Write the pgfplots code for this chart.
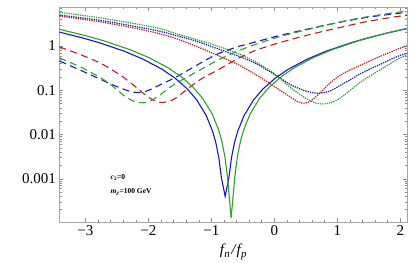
\documentclass[border=0pt]{standalone}
\usepackage{fontspec}
\setmainfont{Liberation Serif}
\usepackage{pgfplots}
\pgfplotsset{compat=1.18}
\definecolor{myred}{rgb}{0.72,0.12,0.12}
\definecolor{myblue}{rgb}{0.1,0.1,0.72}
\definecolor{mygreen}{rgb}{0.17,0.64,0.17}
\begin{document}
\begin{tikzpicture}
\begin{axis}[
  scale only axis, width=347.5pt, height=214.7pt,
  ymode=log, xmin=-3.41, xmax=2.107, ymin=1.067e-4, ymax=7.6,
  axis line style={draw=black!35},
  tick align=inside, tick pos=both,
  xtick={-3,-2,-1,0,1,2}, xticklabels={−3,−2,−1,0,1,2},
  minor x tick num=4,
  ytick={0.001,0.01,0.1,1}, yticklabels={0.001,0.01,0.1,1},
  minor ytick={2e-4,3e-4,4e-4,5e-4,6e-4,7e-4,8e-4,9e-4,2e-3,3e-3,4e-3,5e-3,6e-3,7e-3,8e-3,9e-3,0.02,0.03,0.04,0.05,0.06,0.07,0.08,0.09,0.2,0.3,0.4,0.5,0.6,0.7,0.8,0.9,2,3,4,5,6,7},
  major tick length=4pt, minor tick length=2.2pt,
  tick style={black!45, line width=0.4pt},
  tick label style={font=\fontsize{15}{15}\selectfont},
  xlabel={{\fontsize{15}{15}\selectfont\itshape f\kern0.3pt\raisebox{-3pt}{\fontsize{11}{11}\selectfont n}\kern1.5pt/\kern1pt f\kern0.3pt\raisebox{-3pt}{\fontsize{11}{11}\selectfont p}}},
  xlabel style={yshift=-2pt},
  every axis plot/.append style={line width=1.1pt},
]
\coordinate (sw) at (rel axis cs:0,0);
\coordinate (ne) at (rel axis cs:1,1);
% dotted
\addplot[myred, line width=1.2pt, dash pattern=on 1.3pt off 1pt, smooth] coordinates {
(-3.41,4.76) (-2.753,3.48) (-2.231,2.55) (-1.835,1.91) (-1.566,1.48) (-1.250,1.00) (-0.934,0.643) (-0.617,0.407) (-0.380,0.266) (-0.222,0.195) (-0.063,0.139) (0.095,0.0989) (0.253,0.0706) (0.380,0.0544) (0.475,0.0509) (0.570,0.0559) (0.665,0.0724) (0.759,0.0965) (0.886,0.146) (1.044,0.216) (1.203,0.287) (1.361,0.363) (1.677,0.579) (1.994,0.887) (2.107,1.0)};
\addplot[myblue, line width=1.2pt, dash pattern=on 1.3pt off 1pt, smooth] coordinates {
(-3.41,5.01) (-2.753,3.77) (-2.231,2.80) (-1.835,2.18) (-1.566,1.73) (-1.250,1.30) (-0.934,0.901) (-0.617,0.626) (-0.301,0.407) (0.016,0.221) (0.253,0.135) (0.491,0.0965) (0.696,0.0855) (0.886,0.0965) (1.044,0.128) (1.203,0.171) (1.361,0.233) (1.677,0.382) (1.994,0.610) (2.107,0.677)};
\addplot[mygreen, line width=1.2pt, dash pattern=on 1.3pt off 1pt, smooth] coordinates {
(-3.41,5.77) (-2.753,4.29) (-2.231,3.22) (-1.835,2.51) (-1.566,1.91) (-1.250,1.42) (-0.934,1.03) (-0.617,0.713) (-0.301,0.442) (0.016,0.227) (0.253,0.116) (0.491,0.0670) (0.665,0.0509) (0.807,0.0491) (0.934,0.0544) (1.044,0.0659) (1.203,0.0989) (1.361,0.150) (1.519,0.210) (1.677,0.287) (1.994,0.536) (2.107,0.610)};
% dashed
\addplot[myred, dash pattern=on 7pt off 4.5pt, smooth] coordinates {
(-3.41,0.949) (-3.085,0.643) (-2.753,0.403) (-2.437,0.216) (-2.199,0.119) (-1.994,0.0687) (-1.804,0.0530) (-1.614,0.0604) (-1.456,0.0869) (-1.198,0.166) (-0.881,0.295) (-0.617,0.483) (-0.301,0.791) (0.095,1.20) (0.570,1.82) (1.044,2.62) (1.519,3.67) (2.107,5.01)};
\addplot[myblue, dash pattern=on 7pt off 4.5pt, smooth] coordinates {
(-3.41,0.458) (-3.070,0.280) (-2.753,0.175) (-2.563,0.132) (-2.405,0.107) (-2.231,0.0901) (-2.089,0.0906) (-1.962,0.104) (-1.804,0.135) (-1.566,0.195) (-1.250,0.354) (-0.934,0.626) (-0.617,0.925) (-0.301,1.23) (0.095,1.74) (0.570,2.48) (1.044,3.45) (1.519,4.54) (2.107,5.77)};
\addplot[mygreen, dash pattern=on 7pt off 4.5pt, smooth] coordinates {
(-3.41,0.536) (-3.070,0.330) (-2.753,0.190) (-2.563,0.122) (-2.358,0.0706) (-2.199,0.0544) (-2.073,0.0522) (-1.962,0.0573) (-1.804,0.0804) (-1.614,0.128) (-1.408,0.190) (-1.250,0.252) (-0.934,0.447) (-0.617,0.732) (-0.301,1.08) (0.095,1.64) (0.570,2.42) (1.044,3.48) (1.519,4.68) (2.107,6.17)};
% solid
\addplot[myblue] coordinates {
(-3.41,2.051) (-3.08,1.568) (-2.78,1.186) (-2.38,0.759) (-2.08,0.5011) (-1.78,0.2965) (-1.58,0.1898) (-1.38,0.1067) (-1.23,0.06004) (-1.08,0.02669) (-0.98,0.01186) (-0.93,0.00667) (-0.88,0.002965) (-0.84,0.001067) (-0.78,0.0004) (-0.72,0.001067) (-0.68,0.002965) (-0.63,0.00667) (-0.58,0.01186) (-0.48,0.02669) (-0.33,0.06004) (-0.18,0.1067) (0.02,0.1898) (0.22,0.2965) (0.52,0.5011) (0.82,0.759) (1.22,1.186) (1.52,1.568) (1.80,1.974) (2.107,2.471)};
\addplot[mygreen] coordinates {
(-3.41,2.379) (-2.985,1.695) (-2.685,1.2816) (-2.285,0.8202) (-1.985,0.5415) (-1.685,0.3204) (-1.485,0.2051) (-1.285,0.1153) (-1.135,0.06488) (-0.985,0.02884) (-0.885,0.01282) (-0.835,0.007209) (-0.785,0.003204) (-0.745,0.001153) (-0.685,0.00013) (-0.625,0.001153) (-0.585,0.003204) (-0.535,0.007209) (-0.485,0.01282) (-0.385,0.02884) (-0.235,0.06488) (-0.085,0.1153) (0.115,0.2051) (0.315,0.3204) (0.615,0.5415) (0.915,0.8202) (1.315,1.2816) (1.615,1.695) (1.815,2.0025) (2.107,2.498)};
\node[anchor=west, font=\fontsize{7.5}{8}\selectfont\bfseries, inner sep=0pt] at (axis cs:-2.6,1.06e-3) {\textit{c}\textsubscript{2}=0};
\node[anchor=west, font=\fontsize{7.5}{8}\selectfont\bfseries, inner sep=0pt] at (axis cs:-2.6,4.9e-4) {\textit{m}\textsubscript{\textit{χ}}=100 GeV};
\end{axis}
\pgfresetboundingbox
\path[use as bounding box] ([xshift=-59.5pt,yshift=-40.3pt]sw) rectangle ([xshift=2pt,yshift=7pt]ne);
\end{tikzpicture}
\end{document}
